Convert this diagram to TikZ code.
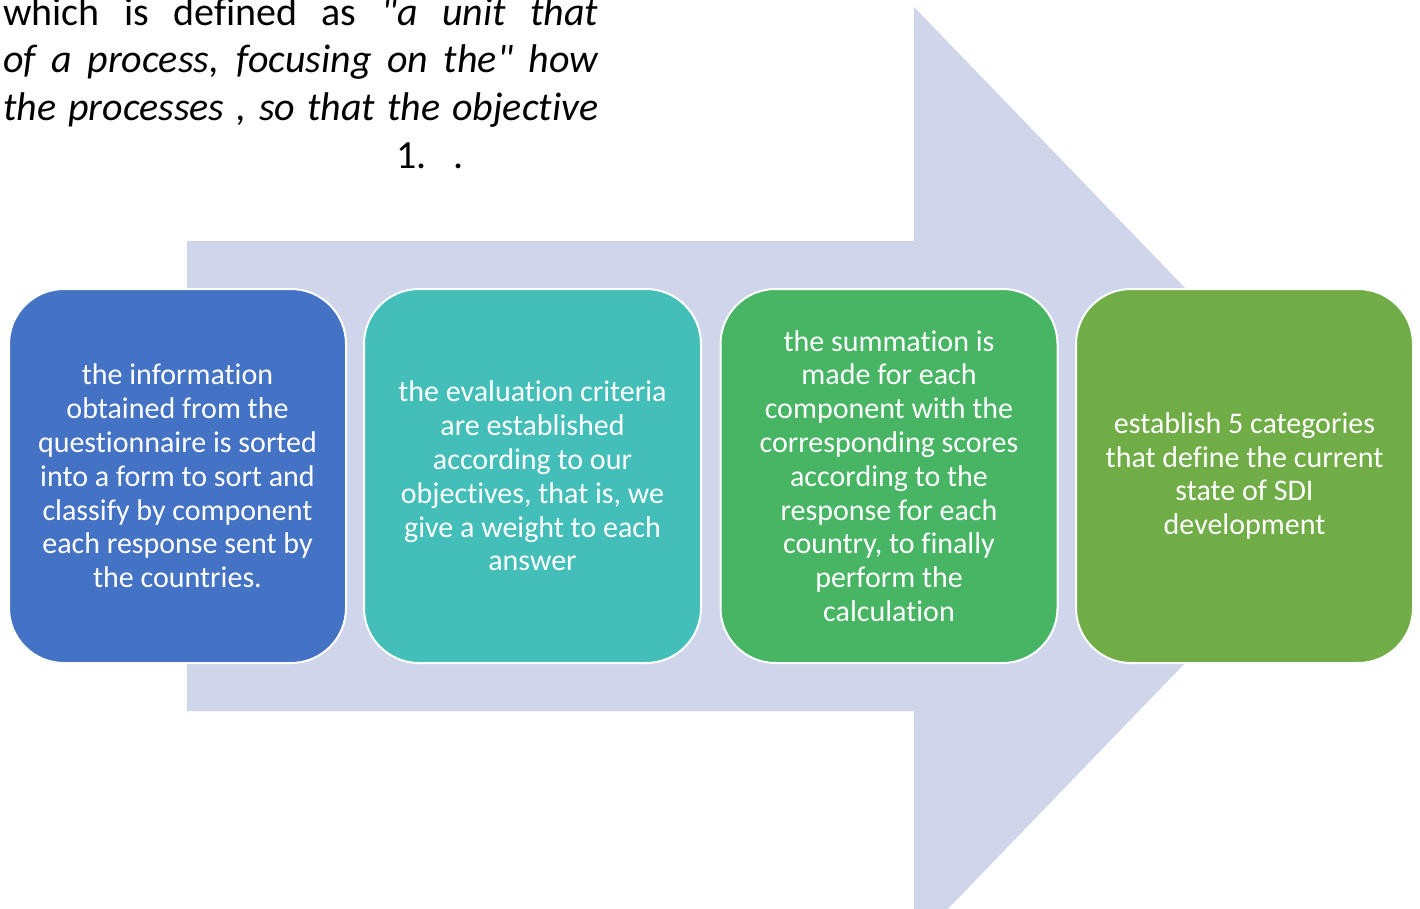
\documentclass[tikz,border=0pt]{standalone}
\usepackage{fontspec}
\setmainfont{Carlito}[Ligatures={TeXOff,CommonOff}]
\definecolor{arrowc}{HTML}{CFD5EA}
\definecolor{c1}{HTML}{4472C4}
\definecolor{c2}{HTML}{43BEB8}
\definecolor{c3}{HTML}{47B564}
\definecolor{c4}{HTML}{70AD47}
\tikzset{
  stepbox/.style={draw=white, line width=2pt, rounded corners=55pt,
    minimum width=337pt, minimum height=374pt, inner sep=0pt,
    text=white, align=center, font=\fontsize{30}{33.8}\selectfont},
  toptext/.style={anchor=base west, inner sep=0pt, font=\fontsize{40}{47.7}\selectfont}
}
\begin{document}
\begin{tikzpicture}[x=1pt,y=-1pt]
\useasboundingbox (0,0) rectangle (1420,908);
\clip (0,0) rectangle (1420,908);
\fill[white] (0,0) rectangle (1420,908);
% big arrow
\fill[arrowc] (187,241) -- (914,241) -- (914,7) -- (1366,475.5) -- (914,944)
  -- (914,711) -- (187,711) -- cycle;
% top text
\node[toptext] (t1) at (3,25) {\makebox[595pt][s]{which is defined as \textit{"a unit that}}};
\node[toptext] (t2) at (3,72.5) {\makebox[595pt][s]{\itshape of a process, focusing on the" how}};
\node[toptext] (t3) at (3,120) {\makebox[595pt][s]{\itshape the processes , so that the objective}};
\node[toptext] (t4) at (396,168) {1.\hspace{27pt}.};
% boxes
\node[stepbox, fill=c1] (b1) at (177.5,476) {the information\\obtained from the\\questionnaire is sorted\\into a form to sort and\\classify by component\\each response sent by\\the countries.};
\node[stepbox, fill=c2] (b2) at (532.5,476) {the evaluation criteria\\are established\\according to our\\objectives, that is, we\\give a weight to each\\answer};
\node[stepbox, fill=c3] (b3) at (889,476) {the summation is\\made for each\\component with the\\corresponding scores\\according to the\\response for each\\country, to finally\\perform the\\calculation};
\node[stepbox, fill=c4] (b4) at (1244.5,476) {establish 5 categories\\that define the current\\state of SDI\\development};
\end{tikzpicture}
\end{document}
